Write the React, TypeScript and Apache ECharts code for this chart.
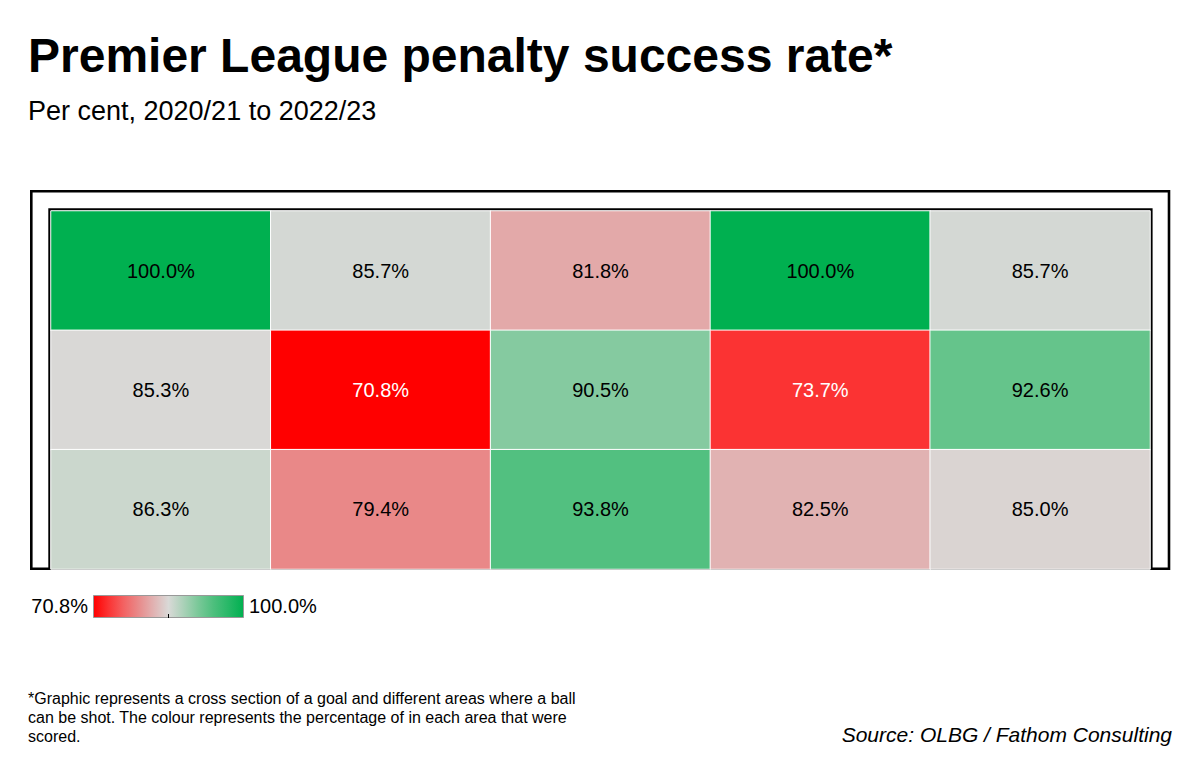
import React, { useEffect, useRef } from "react";
import * as echarts from "echarts";

const columns = ["Left", "Centre-left", "Centre", "Centre-right", "Right"];
const rows = ["Top", "Middle", "Bottom"];
const topRow = [100.0, 85.7, 81.8, 100.0, 85.7];
const middleRow = [85.3, 70.8, 90.5, 73.7, 92.6];
const bottomRow = [86.3, 79.4, 93.8, 82.5, 85.0];
const minValue = 70.8;
const maxValue = 100.0;
// colour stops, evenly spaced from min to max (red -> grey -> green)
const scaleColors = [
  "#FF0000",
  "#FB3333",
  "#F36262",
  "#E88A8A",
  "#E1B2B2",
  "#D9D9D7",
  "#AAD1B8",
  "#79C898",
  "#4DBF7D",
  "#27B867",
  "#00B050",
];

const FONT = "'Liberation Sans', Arial, sans-serif";

export default function App() {
  const ref = useRef<HTMLDivElement>(null);
  useEffect(() => {
    if (!ref.current) return;
    const chart = echarts.init(ref.current, null, { renderer: "svg" });
    const rowValues = [topRow, middleRow, bottomRow];
    const data: any[] = [];
    rowValues.forEach((vals, r) => {
      vals.forEach((v, c) => {
        data.push({
          value: [c, r, v],
          label: { color: v < 75 ? "#ffffff" : "#000000" },
        });
      });
    });
    const n = scaleColors.length;
    chart.setOption({
      animation: false,
      backgroundColor: "#ffffff",
      grid: { left: 51, top: 211, width: 1099, height: 358, containLabel: false },
      xAxis: { type: "category", data: columns, show: false },
      yAxis: { type: "category", data: rows, inverse: true, show: false },
      visualMap: {
        show: false,
        type: "continuous",
        min: minValue,
        max: maxValue,
        dimension: 2,
        inRange: { color: scaleColors },
      },
      series: [
        {
          type: "heatmap",
          data,
          itemStyle: { borderColor: "#ffffff", borderWidth: 1 },
          label: {
            show: true,
            fontSize: 20,
            fontFamily: FONT,
            formatter: (p: any) => p.value[2].toFixed(1) + "%",
          },
          emphasis: { disabled: true },
          z: 5,
        },
      ],
      graphic: [
        {
          type: "rect",
          z: 0,
          shape: { x: 31.3, y: 191.3, width: 1137.7, height: 377.5 },
          style: { fill: "none", stroke: "#000", lineWidth: 2.6 },
        },
        {
          type: "rect",
          z: 0,
          shape: { x: 49.6, y: 209.5, width: 1101.7, height: 359.3 },
          style: { fill: "none", stroke: "#000", lineWidth: 2.6 },
        },
        {
          type: "text",
          x: 28,
          y: 55,
          style: {
            text: "Premier League penalty success rate*",
            fontSize: 48,
            fontWeight: "bold",
            fontFamily: FONT,
            fill: "#000",
            verticalAlign: "middle",
          },
        },
        {
          type: "text",
          x: 28,
          y: 110.5,
          style: {
            text: "Per cent, 2020/21 to 2022/23",
            fontSize: 27,
            fontFamily: FONT,
            fill: "#000",
            verticalAlign: "middle",
          },
        },
        {
          type: "rect",
          shape: { x: 93.5, y: 595.5, width: 150, height: 22 },
          style: {
            stroke: "#999999",
            lineWidth: 1,
            fill: {
              type: "linear",
              x: 0,
              y: 0,
              x2: 1,
              y2: 0,
              colorStops: scaleColors.map((c, i) => ({ offset: i / (n - 1), color: c })),
            },
          },
        },
        {
          type: "line",
          shape: { x1: 168.5, y1: 614, x2: 168.5, y2: 618 },
          style: { stroke: "#000", lineWidth: 1 },
        },
        {
          type: "text",
          x: 88,
          y: 606,
          style: {
            text: minValue.toFixed(1) + "%",
            fontSize: 20,
            fontFamily: FONT,
            fill: "#000",
            align: "right",
            verticalAlign: "middle",
          },
        },
        {
          type: "text",
          x: 249,
          y: 606,
          style: {
            text: maxValue.toFixed(1) + "%",
            fontSize: 20,
            fontFamily: FONT,
            fill: "#000",
            align: "left",
            verticalAlign: "middle",
          },
        },
        {
          type: "text",
          x: 28,
          y: 689,
          style: {
            text:
              "*Graphic represents a cross section of a goal and different areas where a ball\ncan be shot. The colour represents the percentage of in each area that were\nscored.",
            fontSize: 16,
            lineHeight: 19,
            fontFamily: FONT,
            fill: "#000",
            verticalAlign: "top",
          },
        },
        {
          type: "text",
          x: 1172,
          y: 734,
          style: {
            text: "Source: OLBG / Fathom Consulting",
            fontSize: 21,
            fontStyle: "italic",
            fontFamily: FONT,
            fill: "#000",
            align: "right",
            verticalAlign: "middle",
          },
        },
      ],
    });
    return () => chart.dispose();
  }, []);
  return (
    <div
      ref={ref}
      style={{ position: "absolute", left: 0, top: 0, width: 1200, height: 774 }}
    />
  );
}
